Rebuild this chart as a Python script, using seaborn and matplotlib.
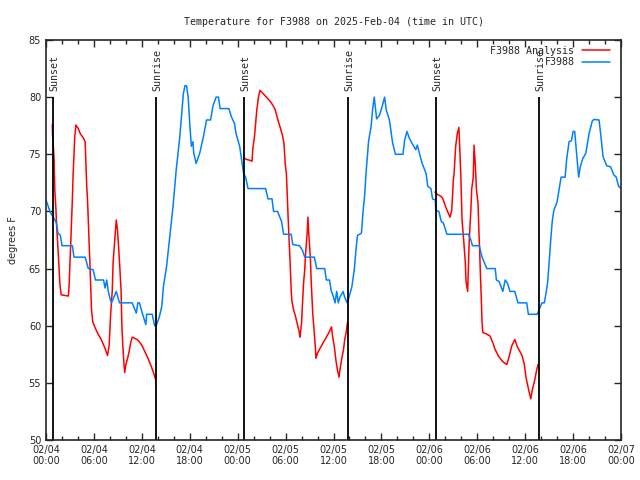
import numpy as np
import matplotlib
matplotlib.use("Agg")
import matplotlib.pyplot as plt
import seaborn as sns

# hours since 02/04 00:00 UTC
obs_hours = [0.0, 0.5, 1.3, 1.5, 1.8, 2.0, 3.3, 3.5, 4.9, 5.3, 5.9, 6.2, 7.2, 7.4, 7.6, 7.8,
             8.0, 8.2, 8.8, 9.2, 10.8, 11.3, 11.5, 11.7, 12.1, 12.5, 12.6, 13.3, 13.6, 13.8,
             14.2, 14.5, 14.7, 15.1, 15.5, 15.9, 16.3, 16.75, 17.2, 17.4, 17.6, 17.8, 18.0,
             18.2, 18.4, 18.5, 18.8, 19.25, 19.7, 20.1, 20.6, 20.9, 21.3, 21.6, 21.8, 22.9,
             23.2, 23.6, 23.8, 24.25, 24.5, 24.75, 25.0, 25.3, 27.5, 27.8, 28.3, 28.5, 29.0,
             29.5, 29.75, 30.7, 30.9, 31.75, 32.1, 32.4, 33.6, 33.9, 34.9, 35.1, 35.5, 35.7,
             36.0, 36.2, 36.4, 36.6, 36.8, 37.2, 37.4, 37.7, 37.9, 38.3, 38.6, 38.8, 39.0,
             39.5, 39.7, 39.9, 40.1, 40.4, 40.7, 40.9, 41.1, 41.4, 41.75, 42.1, 42.4, 42.6,
             43.0, 43.4, 43.75, 44.7, 44.9, 45.2, 45.5, 45.8, 46.3, 46.5, 46.75, 47.1, 47.6,
             47.8, 48.2, 48.4, 48.75, 48.8, 49.2, 49.5, 49.75, 50.2, 52.9, 53.2, 53.4, 54.25,
             54.6, 54.9, 55.2, 56.25, 56.4, 56.75, 57.2, 57.5, 57.8, 58.1, 58.7, 59.1, 60.2,
             60.4, 61.5, 61.75, 62.1, 62.4, 62.6, 62.8, 63.0, 63.2, 63.4, 63.6, 64.0, 64.25,
             64.5, 65.0, 65.2, 65.5, 65.8, 66.0, 66.2, 66.4, 66.7, 66.9, 67.2, 67.6, 68.0,
             68.4, 68.6, 69.25, 69.5, 69.75, 70.2, 70.7, 71.1, 71.4, 71.7, 72.0]
obs_temp = [71.0, 70.0, 69.0, 68.1, 67.9, 67.0, 67.0, 66.0, 66.0, 65.0, 64.9, 64.0, 64.0, 63.3, 64.0, 63.0,
            62.4, 62.0, 63.0, 62.0, 62.0, 61.1, 62.0, 62.0, 61.0, 60.1, 61.0, 61.0, 60.0, 60.0,
            60.8, 61.7, 63.4, 65.2, 67.8, 70.4, 73.6, 76.5, 80.3, 81.0, 81.0, 80.0, 77.7,
            75.7, 76.1, 75.1, 74.2, 75.1, 76.5, 78.0, 78.0, 79.2, 80.0, 80.0, 79.0, 79.0,
            78.3, 77.7, 76.8, 75.7, 74.5, 73.3, 73.0, 72.0, 72.0, 71.1, 71.1, 70.0, 70.0,
            69.1, 68.0, 68.0, 67.1, 67.0, 66.6, 66.0, 66.0, 65.0, 65.0, 64.0, 64.0, 63.1,
            62.5, 62.0, 63.0, 62.0, 62.5, 63.0, 62.5, 62.0, 62.4, 63.4, 64.9, 66.5, 67.9,
            68.1, 70.0, 71.4, 73.6, 76.2, 77.4, 78.9, 80.0, 78.1, 78.4, 79.2, 80.0, 78.9,
            78.0, 76.0, 75.0, 75.0, 76.2, 77.0, 76.4, 76.0, 75.4, 75.8, 75.1, 74.2, 73.3,
            72.2, 72.0, 71.1, 71.0, 70.1, 70.0, 69.1, 69.0, 68.0, 68.0, 67.5, 67.0, 67.0,
            66.0, 65.5, 65.0, 65.0, 64.0, 63.85, 63.0, 64.0, 63.7, 63.0, 63.0, 62.0, 62.0,
            61.0, 61.0, 61.4, 62.0, 62.0, 62.8, 63.7, 65.5, 67.5, 69.2, 70.1, 70.85, 71.9,
            73.0, 73.0, 74.6, 76.1, 76.2, 77.0, 77.0, 75.4, 73.0, 73.9, 74.6, 75.1, 76.8,
            77.9, 78.05, 78.0, 76.5, 74.8, 74.0, 73.9, 73.2, 73.0, 72.2, 72.0]

# analysis, only drawn between sunset and sunrise
ana1_hours = [0.79, 0.82, 1.0, 1.1, 1.25, 1.3, 1.45, 1.6, 1.75, 1.9, 2.8, 2.9, 3.0, 3.1, 3.2,
              3.3, 3.4, 3.6, 3.75, 4.0, 4.3, 4.7, 4.9, 5.0, 5.1, 5.2, 5.3, 5.4, 5.5, 5.6,
              5.7, 5.85, 6.1, 6.5, 6.95, 7.4, 7.7, 7.9, 8.0, 8.1, 8.3, 8.4, 8.55, 8.7, 8.8,
              8.95, 9.1, 9.25, 9.4, 9.5, 9.6, 9.75, 9.85, 10.0, 10.2, 10.4, 10.6, 10.8,
              11.1, 11.5, 12.0, 12.4, 12.8, 13.2, 13.5, 13.75]
ana1_temp = [77.6, 76.7, 74.8, 71.9, 70.1, 69.2, 67.35, 65.5, 63.56, 62.7, 62.6, 63.56, 65.5, 67.2, 69.2,
             71.0, 73.3, 76.5, 77.56, 77.3, 76.8, 76.4, 76.1, 74.2, 72.2, 71.0, 69.2, 67.2, 65.5, 63.4,
             61.4, 60.35, 59.9, 59.3, 58.75, 58.0, 57.4, 58.2, 59.6, 61.1, 63.1, 65.5, 66.9, 68.4, 69.25,
             68.4, 66.8, 65.0, 63.1, 60.06, 58.5, 56.8, 55.9, 56.6, 57.1, 57.7, 58.5, 59.0,
             58.9, 58.75, 58.3, 57.7, 57.1, 56.4, 55.8, 55.25]
ana2_hours = [24.75, 25.1, 25.4, 25.8, 25.9, 26.1, 26.25, 26.4, 26.6, 26.8, 27.2, 27.6, 28.0, 28.4,
              28.7, 29.0, 29.3, 29.6, 29.8, 29.95, 30.1, 30.2, 30.3, 30.4, 30.5, 30.6, 30.7, 30.8,
              31.0, 31.25, 31.5, 31.7, 31.8, 32.0, 32.1, 32.25, 32.4, 32.5, 32.7, 32.8, 32.9, 33.1,
              33.2, 33.4, 33.6, 33.75, 33.8, 34.0, 34.3, 34.7, 35.1, 35.5, 35.75, 35.9, 36.1, 36.3,
              36.5, 36.7, 36.8, 37.0, 37.25, 37.4, 37.6, 37.75]
ana2_temp = [74.7, 74.55, 74.5, 74.4, 75.5, 76.5, 77.7, 78.9, 80.0, 80.6, 80.3, 80.0, 79.7, 79.3,
             78.9, 78.1, 77.4, 76.7, 75.95, 74.2, 73.3, 71.6, 69.8, 68.1, 66.6, 65.0, 63.1, 62.1,
             61.4, 60.8, 60.06, 59.5, 59.0, 60.2, 61.7, 63.7, 64.9, 66.3, 68.1, 69.5, 68.1, 66.0,
             64.0, 61.1, 59.3, 57.9, 57.15, 57.6, 58.0, 58.5, 59.0, 59.5, 59.9, 59.0, 58.2, 57.0,
             56.1, 55.5, 56.1, 57.0, 57.9, 58.75, 59.5, 60.3]
ana3_hours = [48.7, 49.0, 49.5, 49.7, 49.9, 50.1, 50.4, 50.6, 50.8, 50.9, 51.0, 51.1, 51.3, 51.5,
              51.7, 51.8, 51.95, 52.1, 52.3, 52.5, 52.6, 52.8, 52.9, 53.0, 53.2, 53.3, 53.5, 53.6,
              53.75, 53.9, 54.1, 54.2, 54.3, 54.4, 54.5, 54.6, 54.7, 55.1, 55.6, 55.9, 56.25, 56.7,
              57.2, 57.7, 58.0, 58.3, 58.7, 59.0, 59.6, 59.9, 60.1, 60.4, 60.7, 60.9, 61.2, 61.4, 61.6]
ana3_temp = [71.7, 71.5, 71.3, 71.1, 70.7, 70.3, 69.8, 69.5, 70.1, 71.3, 72.7, 73.3, 75.7, 76.8,
             77.35, 75.7, 73.0, 69.2, 67.5, 65.6, 63.85, 63.0, 65.3, 67.5, 70.1, 71.9, 73.0, 75.8,
             74.2, 71.9, 70.7, 68.4, 66.6, 64.4, 62.5, 60.35, 59.4, 59.3, 59.1, 58.6, 57.9, 57.3,
             56.85, 56.6, 57.3, 58.2, 58.8, 58.2, 57.4, 56.6, 55.5, 54.5, 53.6, 54.4, 55.25, 56.0, 56.6]

sun_hours = [0.875, 13.8, 24.8, 37.8, 48.8, 61.7]
sun_labels = ["Sunset", "Sunrise", "Sunset", "Sunrise", "Sunset", "Sunrise"]

tick_hours = list(range(0, 73, 6))
tick_labels = ["02/04\n00:00", "02/04\n06:00", "02/04\n12:00", "02/04\n18:00",
               "02/05\n00:00", "02/05\n06:00", "02/05\n12:00", "02/05\n18:00",
               "02/06\n00:00", "02/06\n06:00", "02/06\n12:00", "02/06\n18:00",
               "02/07\n00:00"]

sns.set_style("ticks")
plt.rcParams['font.family'] = ['DejaVu Sans Mono', 'DejaVu Sans']

fig = plt.figure(figsize=(6.4, 4.8), dpi=100)
ax = fig.add_axes([46 / 640, 40 / 480, 575 / 640, 400 / 480])

red = "#ff0000"
blue = "#0080ff"

sns.lineplot(x=ana1_hours, y=ana1_temp, ax=ax, color=red, linewidth=1.1, label="F3988 Analysis")
sns.lineplot(x=ana2_hours, y=ana2_temp, ax=ax, color=red, linewidth=1.1)
sns.lineplot(x=ana3_hours, y=ana3_temp, ax=ax, color=red, linewidth=1.1)
sns.lineplot(x=obs_hours, y=obs_temp, ax=ax, color=blue, linewidth=1.1, label="F3988")

for h, lab in zip(sun_hours, sun_labels):
    ax.vlines(h, 50, 80, color="black", linewidth=1.3)
    ax.text(h + 0.15, 80.5, lab, rotation=90, ha="center", va="bottom", fontsize=7.2)

ax.set_xlim(0, 72)
ax.set_ylim(50, 85)
ax.set_xticks(tick_hours)
ax.set_xticklabels(tick_labels, fontsize=7, family="DejaVu Sans")
ax.set_xticks(range(0, 73, 2), minor=True)
ax.set_yticks(range(50, 86, 5))
ax.tick_params(axis="y", labelsize=7)
for lab in ax.get_yticklabels():
    lab.set_family("DejaVu Sans")
ax.tick_params(which="both", direction="in", top=True, right=True, width=1)
ax.tick_params(which="major", length=5)
ax.tick_params(which="minor", length=3)
for s in ax.spines.values():
    s.set_linewidth(1.2)

ax.set_xlabel("")
ax.set_ylabel("degrees F", fontsize=7, family="DejaVu Sans", labelpad=8)
ax.set_title("Temperature for F3988 on 2025-Feb-04 (time in UTC)", fontsize=7.2, pad=11)

ax.legend(loc="upper right", frameon=False, markerfirst=False, fontsize=7.2,
          handlelength=2.8, labelspacing=0.15, borderaxespad=0.2, handletextpad=0.8,
          borderpad=0.4, bbox_to_anchor=(0.992, 1.0))

fig.savefig("out.png", dpi=100)
